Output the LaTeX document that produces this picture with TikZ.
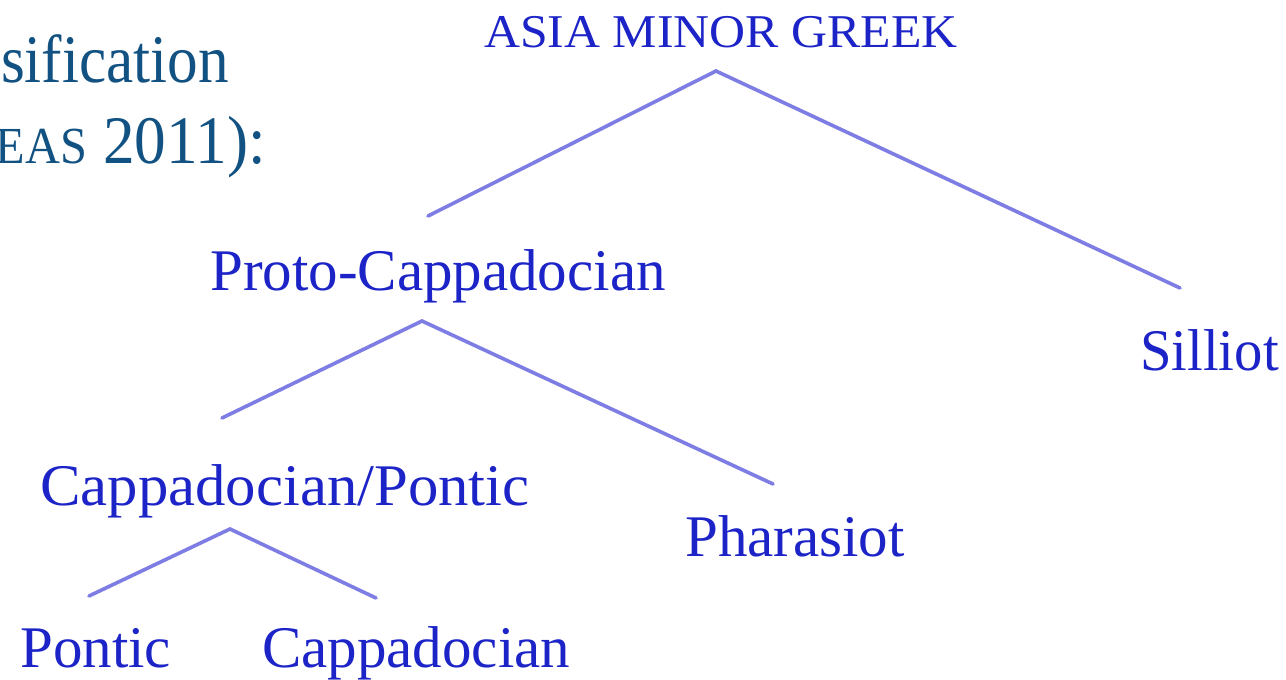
\documentclass[tikz,border=0pt]{standalone}
\usepackage{fontspec}
\setmainfont{Liberation Serif}
\definecolor{lbl}{RGB}{28,36,200}
\definecolor{edge}{RGB}{125,125,228}
\definecolor{ttl}{RGB}{18,82,130}
\tikzset{
  lab/.style={inner sep=0pt, anchor=base west, text=lbl, font=\fontsize{59}{60}\selectfont},
  top/.style={inner sep=0pt, anchor=base west, text=lbl, font=\fontsize{47}{48}\selectfont},
  ttltext/.style={inner sep=0pt, anchor=base east, text=ttl, font=\fontsize{68}{70}\selectfont},
  branch/.style={draw=edge, line width=3.6pt, line cap=round, line join=miter}
}
\begin{document}
\begin{tikzpicture}[x=1pt,y=-1pt]
\useasboundingbox[fill=white] (0,0) rectangle (1286,680);
% partial title at the left edge
\node[ttltext] (t1) at (229,82) {\scalebox{0.9}[1]{sification}};
\node[ttltext] (t2) at (266,163) {\scalebox{0.93}[1]{{\fontsize{52}{54}\selectfont EAS} 2011):}};
% labels
\node[top] (amg) at (484,47) {\scalebox{1.06}[1]{ASIA MINOR GREEK}};
\node[lab] (proto) at (210,290) {Proto-Cappadocian};
\node[lab] (sill) at (1140,370) {\scalebox{0.96}[1]{Silliot}};
\node[lab] (cp) at (40,505) {\scalebox{1.03}[1]{Cappadocian/Pontic}};
\node[lab] (phar) at (685,556) {Pharasiot};
\node[lab] (pont) at (20,667) {Pontic};
\node[lab] (capp) at (262,667) {Cappadocian};
% branch points
\coordinate (a1) at (716,71);
\coordinate (a1l) at (428,216);
\coordinate (a1r) at (1180,288);
\coordinate (a2) at (422,321);
\coordinate (a2l) at (222,418);
\coordinate (a2r) at (773,484);
\coordinate (a3) at (230,529);
\coordinate (a3l) at (89,596);
\coordinate (a3r) at (376,598);
\draw[branch] (a1l) -- (a1) -- (a1r);
\draw[branch] (a2l) -- (a2) -- (a2r);
\draw[branch] (a3l) -- (a3) -- (a3r);
\end{tikzpicture}
\end{document}
